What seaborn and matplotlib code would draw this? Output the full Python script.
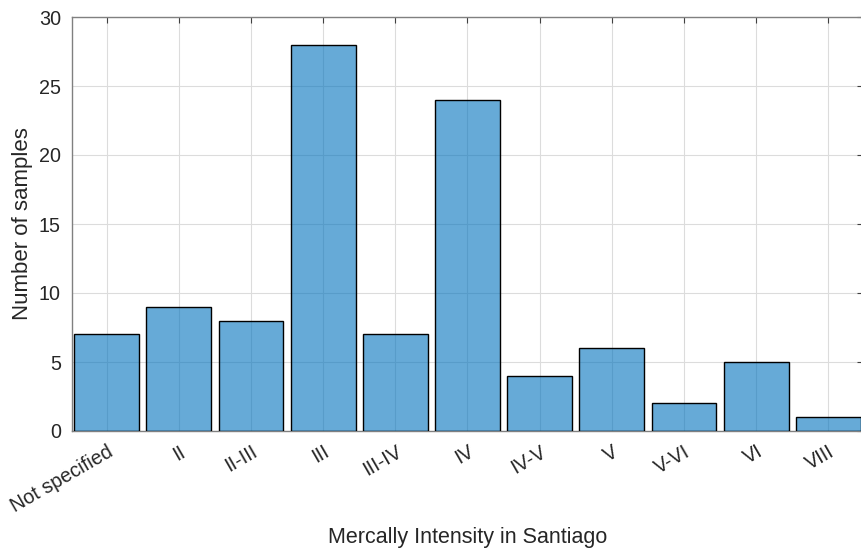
import matplotlib
matplotlib.use("Agg")
import matplotlib.pyplot as plt
import seaborn as sns
import pandas as pd

categories = ["Not specified", "II", "II-III", "III", "III-IV", "IV", "IV-V", "V", "V-VI", "VI", "VIII"]
counts = [7, 9, 8, 28, 7, 24, 4, 6, 2, 5, 1]
yticks = [0, 5, 10, 15, 20, 25, 30]

sns.set_style("white")
plt.rcParams['font.family'] = ['Liberation Sans', 'DejaVu Sans']

df = pd.DataFrame({"cat": categories, "n": counts})

fig = plt.figure(figsize=(8.62, 5.52), dpi=100)
ax = fig.add_axes([72/862, 1-431/552, (863-72)/862, (431-17)/552])

sns.barplot(data=df, x="cat", y="n", ax=ax, color="#0072BD",
            width=0.9, saturation=1, zorder=3)
for p in ax.patches:
    p.set_alpha(None)
    p.set_facecolor((0.0, 0.447, 0.741, 0.6))
    p.set_edgecolor("black")
    p.set_linewidth(1.0)

ax.set_xlim(-0.48, 10.48)
ax.set_ylim(0, 30)
ax.set_yticks(yticks)
ax.grid(True, color="#dcdcdc", linewidth=0.8, zorder=0)
ax.set_axisbelow(True)
for s in ax.spines.values():
    s.set_color("#808080")
    s.set_linewidth(1.0)
ax.tick_params(axis="both", direction="in", length=4, color="#404040",
               labelsize=14.2, labelcolor="#262626", top=True, right=True)
ax.tick_params(axis="y", pad=8)
ax.tick_params(axis="x", pad=8)
ax.set_xticks(range(len(categories)))
ax.set_xticklabels(categories, rotation=30, ha="right", rotation_mode="anchor")
ax.set_xlabel("Mercally Intensity in Santiago", fontsize=15.5, color="#262626", va="center")
ax.xaxis.set_label_coords(0.5, (431 - 537) / 414)
ax.set_ylabel("Number of samples", fontsize=16, color="#262626", va="center")
ax.yaxis.set_label_coords((23 - 72) / 791, 0.5)

fig.savefig("out.png", dpi=100)
